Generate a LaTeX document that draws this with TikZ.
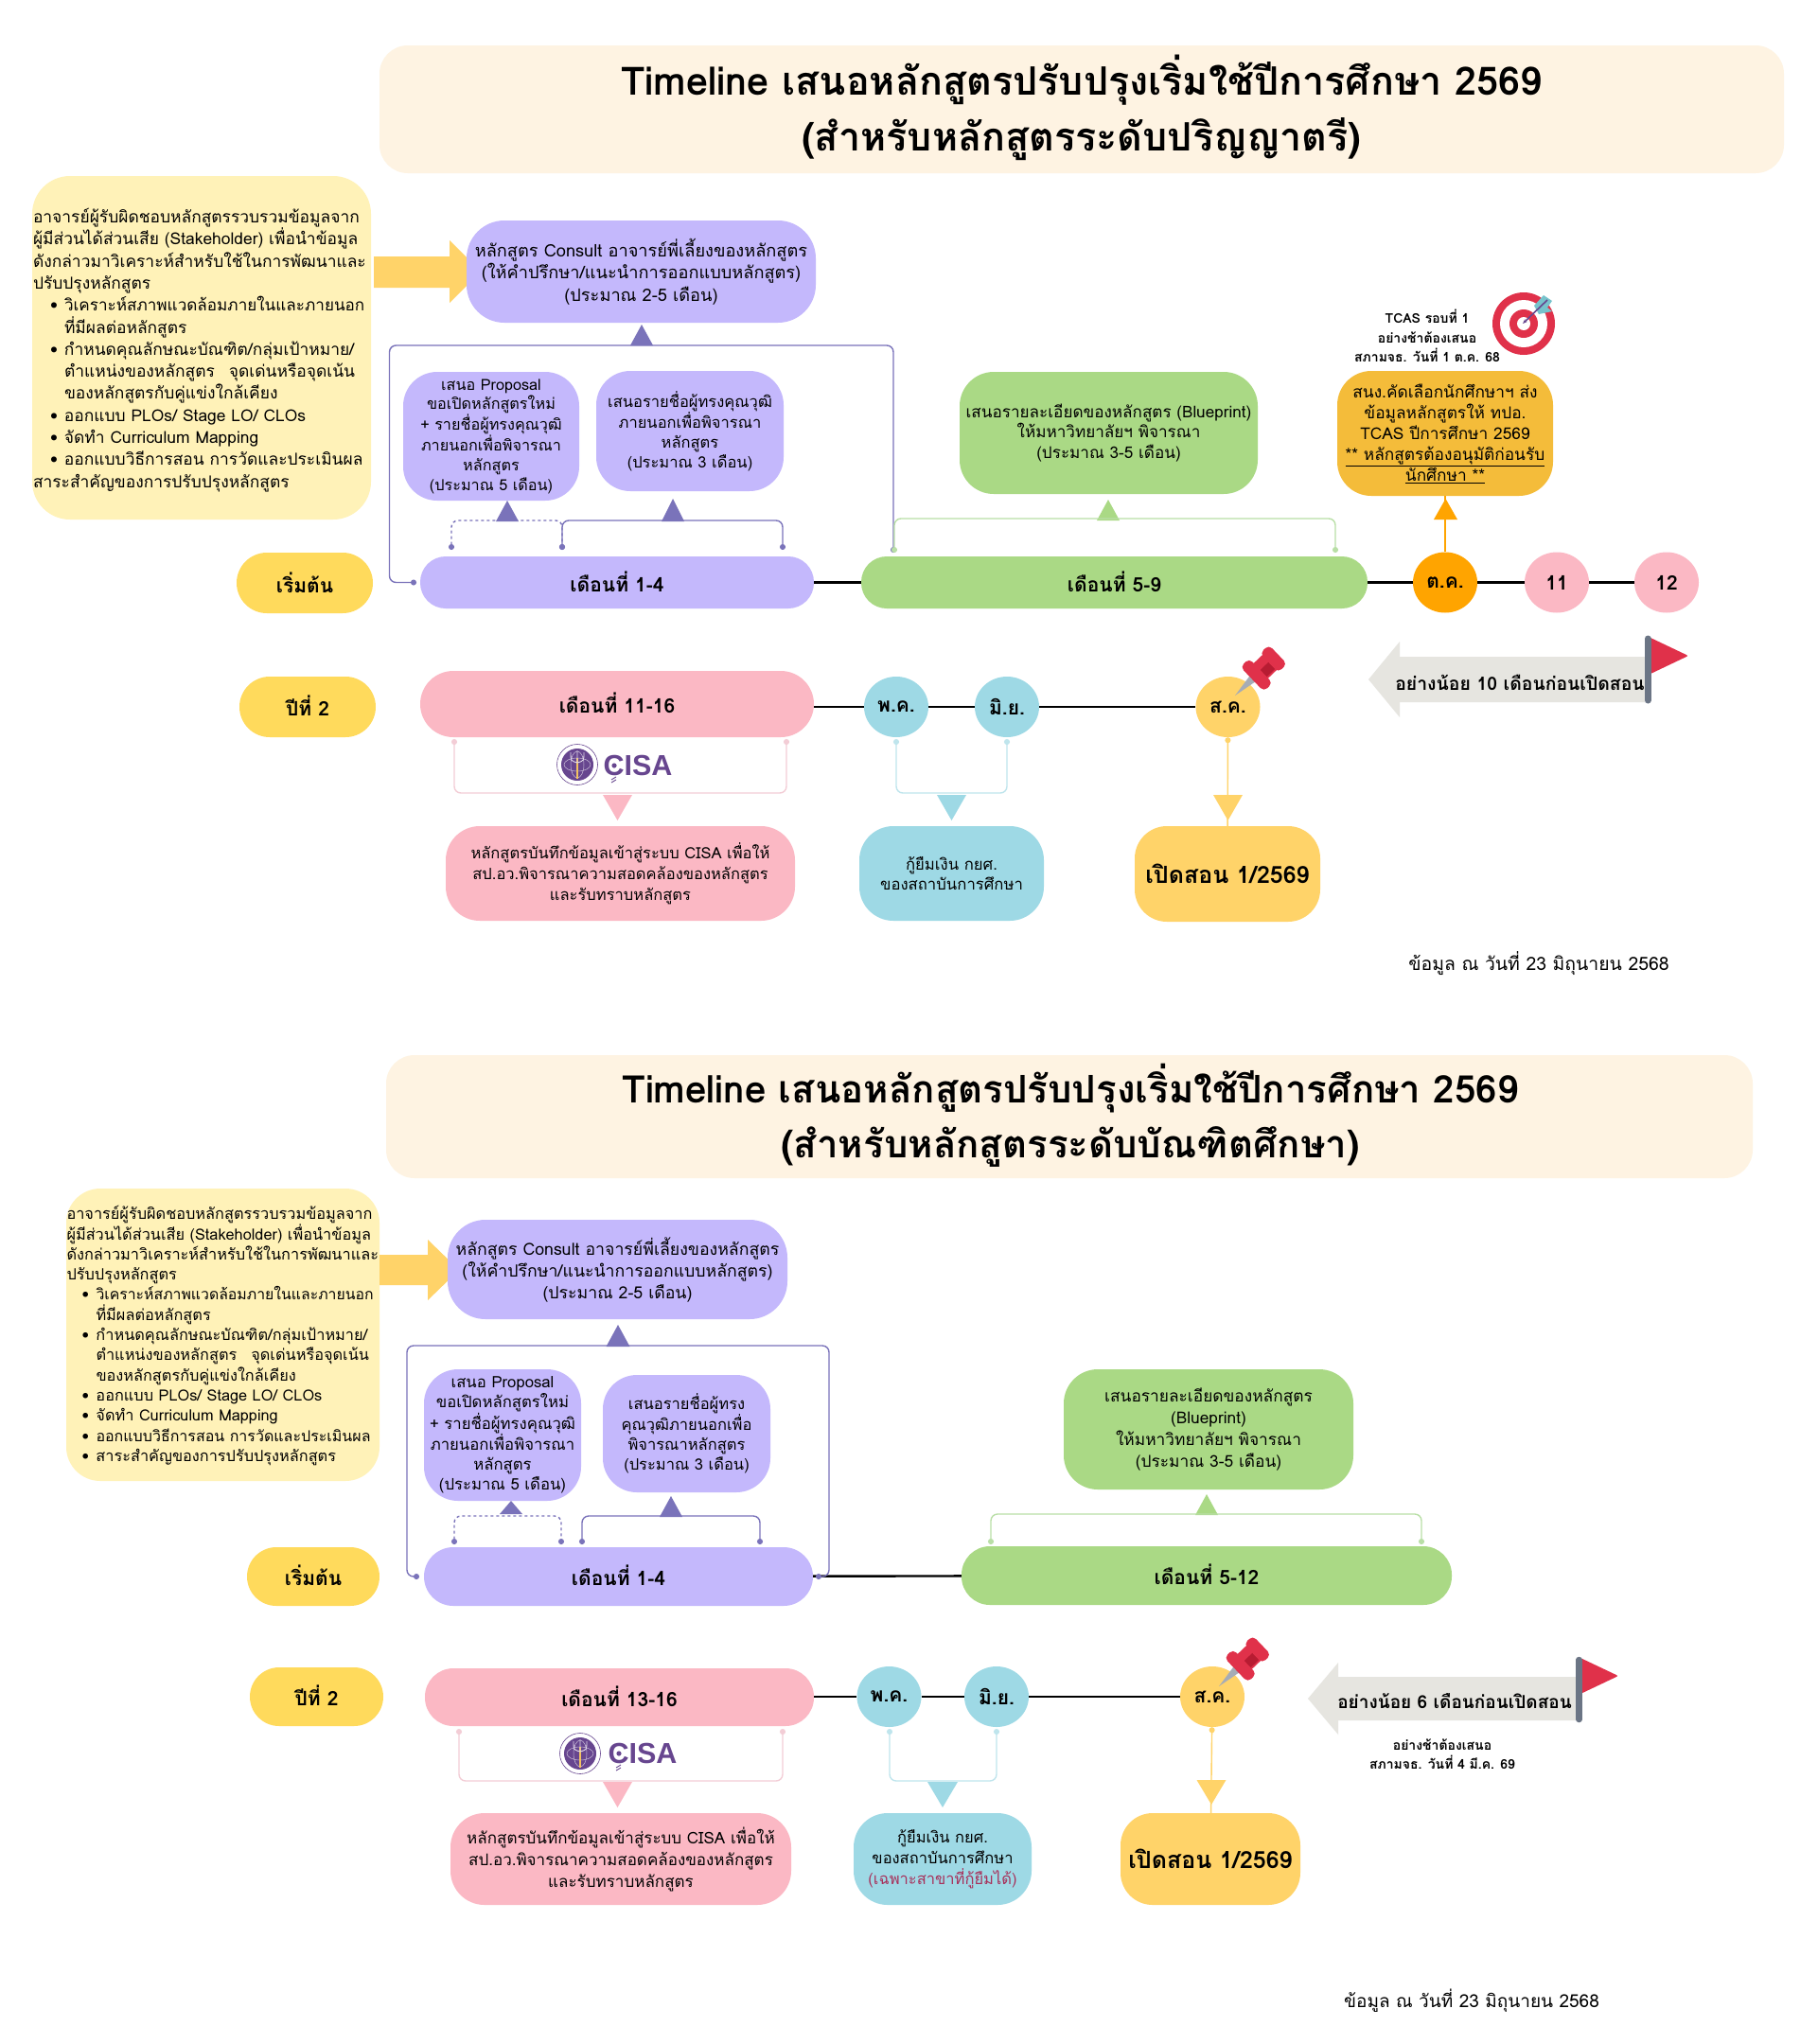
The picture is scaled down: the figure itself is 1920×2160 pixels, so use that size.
\documentclass[tikz,border=0pt]{standalone}
\usepackage{fontspec}
\setmainfont[Script=Thai]{Loma}
\newfontfamily\cisaf{Liberation Sans}
\usetikzlibrary{arrows.meta,shapes.geometric,calc}
\definecolor{cPurple}{HTML}{C4B8FC}
\definecolor{cPurpleD}{HTML}{7A73BA}
\definecolor{cGreen}{HTML}{AAD985}
\definecolor{cGreenL}{HTML}{B9DFA6}
\definecolor{cYellow}{HTML}{FFDA5C}
\definecolor{cGold}{HTML}{FFD369}
\definecolor{cPale}{HTML}{FFF2B8}
\definecolor{cTitle}{HTML}{FEF3E2}
\definecolor{cOrangeB}{HTML}{F4BC3A}
\definecolor{cOrange}{HTML}{FFA400}
\definecolor{cPink}{HTML}{FBB8C4}
\definecolor{cPinkL}{HTML}{F3CDD6}
\definecolor{cBlue}{HTML}{9ED9E5}
\definecolor{cBlueL}{HTML}{BFE5ED}
\definecolor{cGray}{HTML}{E6E5E0}
\definecolor{cFlag}{HTML}{E0314A}
\definecolor{cFlagD}{HTML}{B71C32}
\definecolor{cPole}{HTML}{6B7585}
\definecolor{cCisa}{HTML}{67468F}
\definecolor{cLoan}{HTML}{A8305A}
\newcommand{\fsz}[2]{\fontsize{#1}{#2}\selectfont}
\newcommand{\rb}[9]{\node[boxn,fill=#6,rounded corners=#7,font={#8},minimum width={(#4-(#2))*1pt},minimum height={(#5-(#3))*1pt}] (#1) at ({(#2+#4)/2},{(#3+#5)/2}) {#9};}
\newcommand{\el}[5]{\node[ellipse,inner sep=0pt,fill=#4,minimum width=68pt,minimum height=64pt,font=\fsz{21}{24}\bfseries] (#1) at (#2,#3) {\raisebox{-2.5pt}{#5}};}
\newcommand{\brk}[6]{\coordinate (#1a) at (#3,#4);\coordinate (#1b) at (#5,#4);\coordinate (#1t) at (#3,#6);\draw[#2,rounded corners=7pt] (#1a) -- (#1t) -- (#1b |- #1t) -- (#1b);}
\newcommand{\tri}[5]{\fill[#1] (#2-#4,#5) -- (#2+#4,#5) -- (#2,#3) -- cycle;}
\newcommand{\pinn}[2]{\begin{scope}[shift={(#1,#2)},x={(0.72pt,0.69pt)},y={(0.69pt,-0.72pt)}]
\fill[cPole!60] (0,0) -- (30,-5) -- (30,5) -- cycle;
\fill[cFlag] (36,-11) -- (53,-11) -- (53,11) -- (36,11) -- cycle;
\fill[cFlagD] (36,-1) -- (53,-1) -- (53,9) -- (36,9) -- cycle;
\fill[cFlag,rounded corners=5pt] (25,-18) -- (38,-18) -- (38,18) -- (25,18) -- cycle;
\fill[cFlag,rounded corners=5pt] (50,-14) -- (63,-14) -- (63,14) -- (50,14) -- cycle;
\end{scope}}
\newcommand{\flagg}[7]{\fill[cGray] (#1,#2) -- (#3,#4) -- (#3,#5) -- (#6,#5) -- (#6,#7) -- (#3,#7) -- (#3,{2*#2-#4}) -- cycle;}
\newcommand{\logo}[5]{\fill[white] (#1,#2) circle (22pt);\draw[cCisa,line width=.6pt] (#1,#2) circle (21.5pt);\fill[cCisa] (#1,#2) circle (17pt);
\draw[cCisa!35,line width=.5pt] (#1,#2) ellipse (14pt and 7pt);
\draw[cCisa!35,line width=.5pt] (#1,#2) ellipse (7pt and 14pt);
\draw[cGold!80!brown,line width=1.4pt] (#1,#2-7) -- (#1,#2+15);
\draw[white!80!cCisa,line width=.9pt] (#1-7,#2-13) .. controls (#1-7,#2-4) .. (#1,#2-2) .. controls (#1+7,#2-4) .. (#1+7,#2-13) (#1,#2-2) -- (#1,#2-15);
\node[font=\cisaf\fontsize{30.5}{31}\selectfont\bfseries,text=cCisa,inner sep=0pt] (#5) at (#3,#4) {CISA};
\fill[cCisa] (#3-25,#4) circle (2.6pt);
\draw[cCisa,line width=.9pt] (#3-28,#4+15) -- (#3-23,#4+12) (#3-28,#4+18) -- (#3-23,#4+15);}
\tikzset{
 boxn/.style={inner sep=0pt,align=center,draw=none},
 tline/.style={line width=2.4pt,black},
 brp/.style={line width=1.4pt,cPurpleD,{Circle[length=6pt,width=6pt]}-{Circle[length=6pt,width=6pt]}},
 brg/.style={line width=1.4pt,cGreenL,{Circle[length=6pt,width=6pt]}-{Circle[length=6pt,width=6pt]}},
 brk2/.style={line width=1.4pt,cPinkL,{Circle[length=6pt,width=6pt]}-{Circle[length=6pt,width=6pt]}},
 brb/.style={line width=1.4pt,cBlueL,{Circle[length=6pt,width=6pt]}-{Circle[length=6pt,width=6pt]}},
}
\begin{document}
\begin{tikzpicture}[x=1pt,y=-1pt]
\useasboundingbox (0,0) rectangle (1920,2160);
\fill[white] (0,0) rectangle (1920,2160);
%% ---------- PART 1
\rb{titleA}{401}{48}{1885}{183}{cTitle}{30pt}{\normalsize}{}
\node[boxn,font=\fsz{41.3}{59}\bfseries] (titleAt) at (1143,114) {Timeline เสนอหลักสูตรปรับปรุงเริ่มใช้ปีการศึกษา 2569\\(สำหรับหลักสูตรระดับปริญญาตรี)};
\rb{infoA}{34}{186}{392}{549}{cPale}{40pt}{\fsz{17.4}{23.3}}{\begin{minipage}{356pt}\raggedright\vspace*{5pt}อาจารย์ผู้รับผิดชอบหลักสูตรรวบรวมข้อมูลจาก\\
ผู้มีส่วนได้ส่วนเสีย (Stakeholder) เพื่อนำข้อมูล\\
ดังกล่าวมาวิเคราะห์สำหรับใช้ในการพัฒนาและ\\
ปรับปรุงหลักสูตร\\
\hspace*{18pt}\makebox[15pt][l]{•}{\fsz{17.1}{23.3}วิเคราะห์สภาพแวดล้อมภายในและภายนอก}\\
\hspace*{33pt}ที่มีผลต่อหลักสูตร\\
\hspace*{18pt}\makebox[15pt][l]{•}กำหนดคุณลักษณะบัณฑิต/กลุ่มเป้าหมาย/\\
\hspace*{33pt}ตำแหน่งของหลักสูตร\hspace{15pt}จุดเด่นหรือจุดเน้น\\
\hspace*{33pt}ของหลักสูตรกับคู่แข่งใกล้เคียง\\
\hspace*{18pt}\makebox[15pt][l]{•}ออกแบบ PLOs/ Stage LO/ CLOs\\
\hspace*{18pt}\makebox[15pt][l]{•}จัดทำ Curriculum Mapping\\
\hspace*{18pt}\makebox[15pt][l]{•}ออกแบบวิธีการสอน การวัดและประเมินผล\\
สาระสำคัญของการปรับปรุงหลักสูตร\end{minipage}}
\fill[cGold] (395,271) -- (475,271) -- (475,254) -- (508,287) -- (475,320) -- (475,304) -- (395,304) -- cycle;
\rb{consultA}{493}{233}{862}{341}{cPurple}{40pt}{\fsz{18.2}{23.5}}{หลักสูตร Consult อาจารย์พี่เลี้ยงของหลักสูตร\\(ให้คำปรึกษา/แนะนำการออกแบบหลักสูตร)\\(ประมาณ 2-5 เดือน)}
\tri{cPurpleD}{678}{343}{12}{365}
\rb{propA}{426}{393}{612}{529}{cPurple}{36pt}{\fsz{16.2}{20.8}}{เสนอ Proposal\\ขอเปิดหลักสูตรใหม่\\+ รายชื่อผู้ทรงคุณวุฒิ\\ภายนอกเพื่อพิจารณา\\หลักสูตร\\(ประมาณ 5 เดือน)}
\rb{namesA}{630}{392}{828}{519}{cPurple}{36pt}{\fsz{16.5}{20.8}}{เสนอรายชื่อผู้ทรงคุณวุฒิ\\ภายนอกเพื่อพิจารณา\\หลักสูตร\\(ประมาณ 3 เดือน)}
\tri{cPurpleD}{536}{529}{12}{551}
\tri{cPurpleD}{711}{527}{12}{551}
\rb{startA}{250}{584}{394}{648}{cYellow}{32pt}{\fsz{21}{24}\bfseries}{\raisebox{1.5pt}{เริ่มต้น}}
\rb{barAa}{444}{588}{860}{643}{cPurple}{27pt}{\fsz{21}{24}\bfseries}{\raisebox{2pt}{เดือนที่ 1-4}}
\rb{barAb}{910}{588}{1445}{643}{cGreen}{27pt}{\fsz{21}{24}\bfseries}{\raisebox{2pt}{เดือนที่ 5-9}}
\el{octA}{1527}{615.5}{cOrange}{ต.ค.}
\el{mA}{1645}{615.5}{cPink}{11}
\el{mB}{1761}{615.5}{cPink}{12}
\draw[tline] (barAa) -- (barAb);
\draw[tline] (barAb) -- (octA);
\draw[tline] (octA) -- (mA);
\draw[tline] (mA) -- (mB);
\coordinate (bigAs) at (440,615.5);\coordinate (bigAe) at (944,584);\coordinate (bigAl) at (411.5,365);
\draw[brp,rounded corners=7pt] (bigAs) -| (bigAl) -- (bigAe |- bigAl) -- (bigAe);
\brk{dA}{brp,dashed}{477}{581}{594}{550}
\brk{sA}{brp}{594}{581}{827}{550}
\rb{blueA}{1014}{393}{1329}{522}{cGreen}{36pt}{\fsz{17.1}{21.7}}{เสนอรายละเอียดของหลักสูตร (Blueprint)\\ให้มหาวิทยาลัยฯ พิจารณา\\(ประมาณ 3-5 เดือน)}
\tri{cGreen}{1171}{528}{12}{550}
\brk{gA}{brg}{945}{584}{1411}{548}
\rb{tcasA}{1413}{392}{1641}{524}{cOrangeB}{36pt}{\fsz{17.3}{22}}{สนง.คัดเลือกนักศึกษาฯ ส่ง\\ข้อมูลหลักสูตรให้ ทปอ.\\TCAS ปีการศึกษา 2569\\\underline{** หลักสูตรต้องอนุมัติก่อนรับ}\\\underline{นักศึกษา **}}
\tri{cOrange}{1527.5}{527}{12.5}{549}
\draw[cOrange,line width=1.4pt] (octA) -- (tcasA);
\node[boxn,font=\fsz{14}{20.5}\bfseries] (tcasN) at (1508,355) {TCAS รอบที่ 1\\อย่างช้าต้องเสนอ\\สภามจธ. วันที่ 1 ต.ค. 68};
\fill[cFlag] (1610,342) circle (33pt);\fill[white] (1610,342) circle (25pt);\fill[cFlag] (1610,342) circle (15pt);\fill[white] (1610,342) circle (7pt);
\fill[cBlue!75!teal] (1621,323) -- (1631,312) -- (1640,318) -- (1635,325) -- (1640,329) -- (1626,332) -- cycle;
\draw[cCisa,line width=1.6pt,-{Stealth[length=5pt]}] (1635,317) -- (1609,342);
%% row 2
\rb{y2A}{253}{715}{397}{779}{cYellow}{32pt}{\fsz{21}{24}\bfseries}{\raisebox{2.5pt}{ปีที่ 2}}
\rb{barAc}{444}{709}{860}{779}{cPink}{35pt}{\fsz{21}{24}\bfseries}{\raisebox{2.5pt}{เดือนที่ 11-16}}
\el{mayA}{947}{747}{cBlue}{พ.ค.}
\el{junA}{1064}{747}{cBlue}{มิ.ย.}
\el{augA}{1297.5}{747}{cGold}{ส.ค.}
\draw[tline] (barAc.east |- mayA) -- (mayA);
\draw[tline] (mayA) -- (junA);
\draw[tline] (junA) -- (augA);
\pinn{1305}{735}
\brk{pA}{brk2}{480}{781}{831}{838}
\logo{610}{808}{674}{809}{cisaA}
\tri{cPink}{652.5}{867}{15.5}{840}
\rb{pinkA}{471}{873}{840}{973}{cPink}{36pt}{\fsz{16.5}{22}}{หลักสูตรบันทึกข้อมูลเข้าสู่ระบบ CISA เพื่อให้\\สป.อว.พิจารณาความสอดคล้องของหลักสูตร\\และรับทราบหลักสูตร}
\brk{bA}{brb}{947}{781}{1064}{838}
\tri{cBlue}{1005.5}{867}{15.5}{840}
\rb{loanA}{908}{873}{1103}{973}{cBlue}{36pt}{\fsz{16.7}{21.5}}{กู้ยืมเงิน กยศ.\\ของสถาบันการศึกษา}
\tri{cGold}{1297.5}{867}{15.5}{840}
\rb{openA}{1199}{873}{1395}{974}{cGold}{34pt}{\fsz{25}{30}\bfseries}{\raisebox{1pt}{เปิดสอน 1/2569}}
\draw[cGold,line width=1.4pt,{Circle[length=6pt,width=6pt]}-] (augA) -- (openA);
\flagg{1446}{718}{1479}{678}{694}{1738}{742}
\node[inner sep=0pt,font=\fsz{19.4}{22}\bfseries] (noteA) at (1606,721) {อย่างน้อย 10 เดือนก่อนเปิดสอน};
\fill[cFlag,rounded corners=2pt] (1742,673) -- (1784,693) -- (1742,713) -- cycle;
\draw[cPole,line width=7pt,line cap=round] (1741,675) -- (1741,740);
\node[inner sep=0pt,font=\fsz{19.4}{22}] (dateA) at (1626,1018) {ข้อมูล ณ วันที่ 23 มิถุนายน 2568};
%% ---------- PART 2
\rb{titleB}{408}{1115}{1852}{1245}{cTitle}{30pt}{\normalsize}{}
\node[boxn,font=\fsz{40.2}{58}\bfseries] (titleBt) at (1131,1179) {Timeline เสนอหลักสูตรปรับปรุงเริ่มใช้ปีการศึกษา 2569\\(สำหรับหลักสูตรระดับบัณฑิตศึกษา)};
\rb{infoB}{70}{1256}{401}{1565}{cPale}{36pt}{\fsz{16.3}{21.3}}{\begin{minipage}{330pt}\raggedright\vspace*{2pt}อาจารย์ผู้รับผิดชอบหลักสูตรรวบรวมข้อมูลจาก\\
ผู้มีส่วนได้ส่วนเสีย (Stakeholder) เพื่อนำข้อมูล\\
ดังกล่าวมาวิเคราะห์สำหรับใช้ในการพัฒนาและ\\
ปรับปรุงหลักสูตร\\
\hspace*{16pt}\makebox[15pt][l]{•}{\fsz{15.8}{21.3}วิเคราะห์สภาพแวดล้อมภายในและภายนอก}\\
\hspace*{31pt}ที่มีผลต่อหลักสูตร\\
\hspace*{16pt}\makebox[15pt][l]{•}กำหนดคุณลักษณะบัณฑิต/กลุ่มเป้าหมาย/\\
\hspace*{31pt}ตำแหน่งของหลักสูตร\hspace{15pt}จุดเด่นหรือจุดเน้น\\
\hspace*{31pt}ของหลักสูตรกับคู่แข่งใกล้เคียง\\
\hspace*{16pt}\makebox[15pt][l]{•}ออกแบบ PLOs/ Stage LO/ CLOs\\
\hspace*{16pt}\makebox[15pt][l]{•}จัดทำ Curriculum Mapping\\
\hspace*{16pt}\makebox[15pt][l]{•}{\fsz{16}{21.3}ออกแบบวิธีการสอน การวัดและประเมินผล}\\
\hspace*{16pt}\makebox[15pt][l]{•}สาระสำคัญของการปรับปรุงหลักสูตร\end{minipage}}
\fill[cGold] (401,1326) -- (452,1326) -- (452,1310) -- (485,1342) -- (452,1374) -- (452,1358) -- (401,1358) -- cycle;
\rb{consultB}{473}{1289}{832}{1394}{cPurple}{40pt}{\fsz{17.7}{23}}{หลักสูตร Consult อาจารย์พี่เลี้ยงของหลักสูตร\\(ให้คำปรึกษา/แนะนำการออกแบบหลักสูตร)\\(ประมาณ 2-5 เดือน)}
\tri{cPurpleD}{653}{1400}{12.5}{1423}
\rb{propB}{448}{1447}{614}{1586}{cPurple}{36pt}{\fsz{16.7}{21}}{เสนอ Proposal\\ขอเปิดหลักสูตรใหม่\\+ รายชื่อผู้ทรงคุณวุฒิ\\ภายนอกเพื่อพิจารณา\\หลักสูตร\\(ประมาณ 5 เดือน)}
\rb{namesB}{637}{1453}{814}{1577}{cPurple}{36pt}{\fsz{16.5}{21}}{เสนอรายชื่อผู้ทรง\\คุณวุฒิภายนอกเพื่อ\\พิจารณาหลักสูตร\\(ประมาณ 3 เดือน)}
\tri{cPurpleD}{540}{1586}{12}{1600}
\tri{cPurpleD}{709}{1581}{12}{1603}
\rb{startB}{261}{1635}{401}{1697}{cYellow}{31pt}{\fsz{21}{24}\bfseries}{\raisebox{2pt}{เริ่มต้น}}
\rb{barBa}{448}{1635}{859}{1697}{cPurple}{31pt}{\fsz{21}{24}\bfseries}{\raisebox{2.5pt}{เดือนที่ 1-4}}
\rb{barBb}{1016}{1634}{1534}{1696}{cGreen}{30pt}{\fsz{21}{24}\bfseries}{\raisebox{2.5pt}{เดือนที่ 5-12}}
\draw[tline] (barBa) -- (barBb);
\coordinate (bigBs) at (443,1666);\coordinate (bigBe) at (862,1666);\coordinate (bigBl) at (430,1422);\coordinate (bigBr) at (876,1422);
\draw[brp,rounded corners=7pt] (bigBs) -| (bigBl) -- (bigBr) |- (bigBe);
\brk{dB}{brp,dashed}{480}{1632}{593}{1602}
\brk{sB}{brp}{615}{1632}{803}{1602}
\rb{blueB}{1124}{1447}{1430}{1574}{cGreen}{36pt}{\fsz{17.3}{23}}{เสนอรายละเอียดของหลักสูตร\\(Blueprint)\\ให้มหาวิทยาลัยฯ พิจารณา\\(ประมาณ 3-5 เดือน)}
\tri{cGreen}{1275}{1579}{12}{1601}
\brk{gB}{brg}{1047}{1632}{1502}{1600}
%% row 2
\rb{y2B}{264}{1762}{405}{1824}{cYellow}{31pt}{\fsz{21}{24}\bfseries}{\raisebox{2.5pt}{ปีที่ 2}}
\rb{barBc}{449}{1763}{860}{1824}{cPink}{30pt}{\fsz{21}{24}\bfseries}{\raisebox{2.5pt}{เดือนที่ 13-16}}
\el{mayB}{939.5}{1793}{cBlue}{พ.ค.}
\el{junB}{1053}{1793}{cBlue}{มิ.ย.}
\el{augB}{1281}{1793}{cGold}{ส.ค.}
\draw[tline] (barBc.east |- mayB) -- (mayB);
\draw[tline] (mayB) -- (junB);
\draw[tline] (junB) -- (augB);
\pinn{1288}{1782}
\brk{pB}{brk2}{485}{1827}{827}{1882}
\logo{613}{1853}{679}{1853}{cisaB}
\tri{cPink}{652.5}{1910}{15.5}{1883}
\rb{pinkB}{476}{1916}{836}{2013}{cPink}{36pt}{\fsz{17}{23}}{หลักสูตรบันทึกข้อมูลเข้าสู่ระบบ CISA เพื่อให้\\สป.อว.พิจารณาความสอดคล้องของหลักสูตร\\และรับทราบหลักสูตร}
\brk{bB}{brb}{940}{1827}{1053}{1882}
\tri{cBlue}{996}{1910}{16}{1883}
\rb{loanB}{902}{1916}{1090}{2013}{cBlue}{36pt}{\fsz{16.5}{22}}{กู้ยืมเงิน กยศ.\\ของสถาบันการศึกษา\\\textcolor{cLoan}{(เฉพาะสาขาที่กู้ยืมได้)}}
\tri{cGold}{1280}{1907}{15.5}{1881}
\rb{openB}{1184}{1916}{1374}{2013}{cGold}{34pt}{\fsz{25}{30}\bfseries}{เปิดสอน 1/2569}
\draw[cGold,line width=1.4pt,{Circle[length=6pt,width=6pt]}-] (augB) -- (openB);
\flagg{1382}{1795}{1414}{1757}{1772}{1666}{1818}
\node[inner sep=0pt,font=\fsz{19}{22}\bfseries] (noteB) at (1537,1798) {อย่างน้อย 6 เดือนก่อนเปิดสอน};
\fill[cFlag,rounded corners=2pt] (1670,1752) -- (1710,1771) -- (1670,1790) -- cycle;
\draw[cPole,line width=6.5pt,line cap=round] (1668.5,1754) -- (1668.5,1817);
\node[boxn,font=\fsz{14}{20}\bfseries] (lateB) at (1524,1854) {อย่างช้าต้องเสนอ\\สภามจธ. วันที่ 4 มี.ค. 69};
\node[inner sep=0pt,font=\fsz{19}{22}] (dateB) at (1555,2114) {ข้อมูล ณ วันที่ 23 มิถุนายน 2568};
\end{tikzpicture}
\end{document}
